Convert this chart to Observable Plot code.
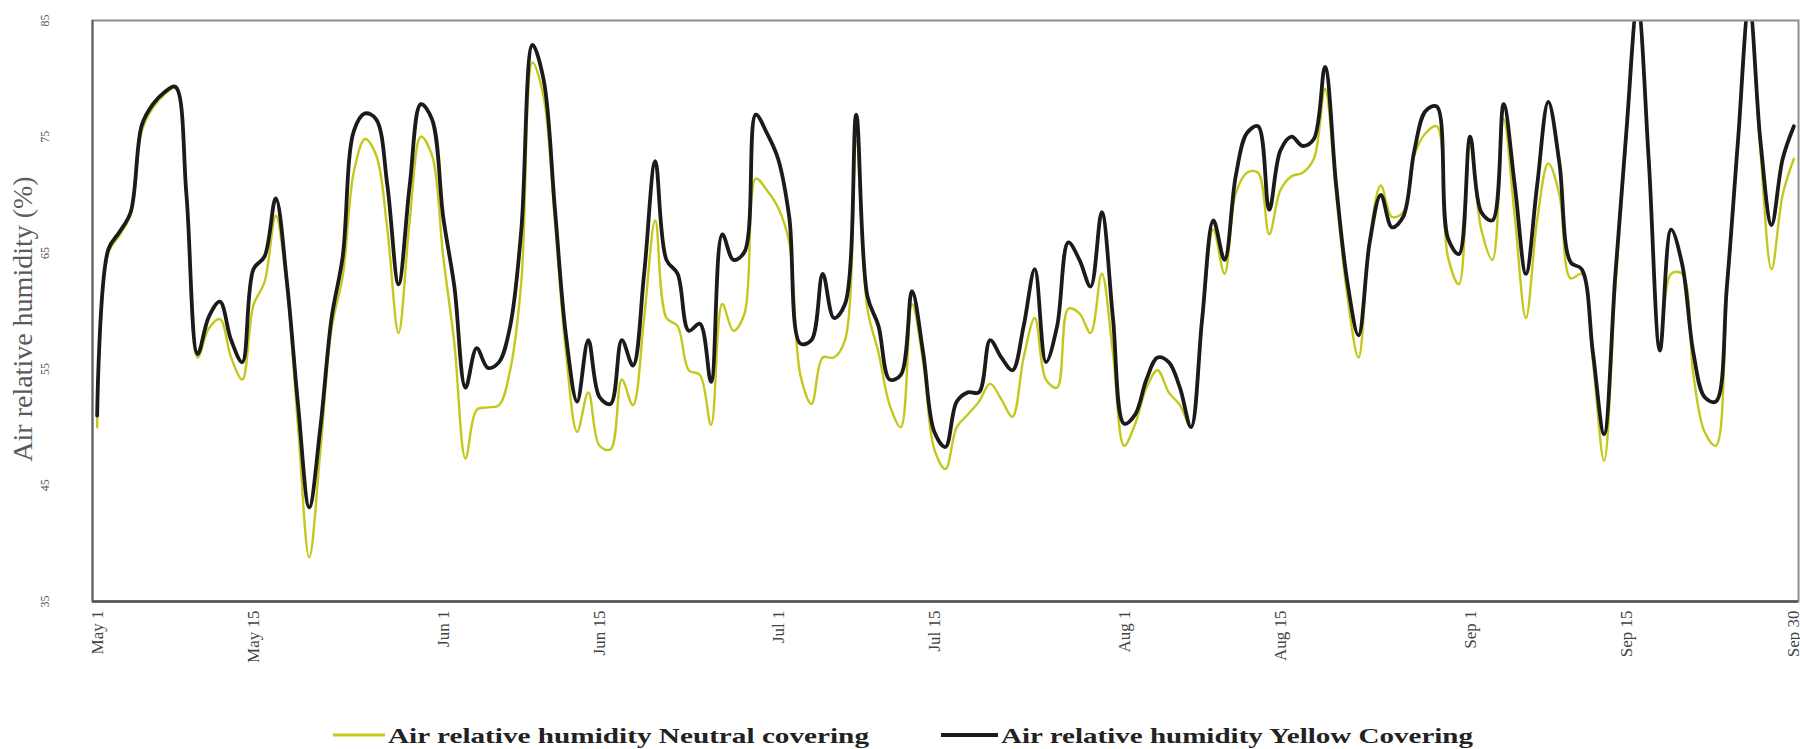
<!DOCTYPE html>
<html><head><meta charset="utf-8">
<script src="https://cdn.jsdelivr.net/npm/d3@7"></script>
<script src="https://cdn.jsdelivr.net/npm/@observablehq/plot@0.6"></script>
<style>
body{margin:0;background:#fff;}
#chart svg,#legend svg{display:block}
</style></head><body><div id="chart"></div><div id="legend"></div>
<script>
// ---- data (daily values, May 1 .. Sep 30) ----
const startDate = "2021-05-01";
const neutralCovering = [
 50,65,66.5,68.3,75.5,77.5,78.6,79.2,70,56,
 58.5,59.3,56,54.1,60.5,62.5,68.2,62,50,38.8,
 48,58.5,63,72,74.8,73.4,67,58.1,67.8,75,
 73.4,64.7,57.2,47.3,51.5,51.7,51.9,54.9,62.5,81.4,
 78.4,67.8,56.4,49.6,53,48.4,48.1,54.1,51.9,59.4,
 67.8,59.4,58.7,54.9,54.5,50.2,60.6,58.3,59.8,71.4,
 70.4,68.9,65.9,54.5,52,56,56,57.5,74.6,60.2,
 56.4,51.9,50,60.6,55.6,48.1,46.4,50,51.1,52.2,
 53.75,52.4,50.9,56,59.4,54.1,53.4,60.2,59.8,58.1,
 63.2,56.4,48.4,50.3,53.4,54.9,53,51.9,50,59.1,
 67,63.2,70.1,71.9,71.9,66.6,70.4,71.6,71.9,73.1,
 79.1,70,61.3,56,66.2,70.8,68.1,68.5,73.4,75.3,
 75.9,64.7,62.3,74.2,67,64.4,76.5,68.1,59.4,67.8,
 72.7,70,62.8,63.2,55.6,47.1,62,75,86,73,
 57.2,63.2,63.2,54.5,49.6,48.4,61.5,74.5,86,73.8,
 63.6,70,73.1
];
const yellowCovering = [
 51,65.3,66.8,68.5,76,77.8,78.8,79.3,70,56.3,
 59.5,60.8,57.5,55.6,63.6,64.7,69.7,62.5,51.9,43.1,
 50,59.4,64.7,75.5,77,76.5,70.8,62.3,70.8,77.8,
 76.5,68.1,62.1,53.4,56.8,55.1,55.6,58.7,67,82.9,
 79.9,68.9,57.9,52.2,57.5,52.6,52,57.5,55.3,63.2,
 72.9,64.4,63.2,58.3,58.9,53.9,66.6,64.4,65.1,76.9,
 75.3,73.1,68.1,57.2,57.5,63.2,59.4,60.6,76.9,61.3,
 58.7,54.1,54.5,61.7,56.4,49.6,48.3,52.2,53,53,
 57.5,56,54.9,58.7,63.6,55.6,58.7,65.9,64.4,62.1,
 68.5,59.4,50.3,51.1,54.1,56,55.6,53.4,50,59.4,
 67.8,64.4,71.6,75.3,75.9,68.7,73.8,75,74.2,74.8,
 81,70.8,62.5,57.9,65.9,70,67.2,68.1,73.8,77.2,
 77.6,66.3,64.9,75,68.5,67.8,77.8,70.8,63.2,70.8,
 78,72.7,64.2,63.6,56.4,49.4,63,75.5,86.5,73,
 56.6,67,64,56.4,52.6,52.2,62.1,74.7,86.5,74.7,
 67.4,73.1,75.9
];
const tickDates = ["2021-05-01","2021-05-15","2021-06-01","2021-06-15","2021-07-01","2021-07-15","2021-08-01","2021-08-15","2021-09-01","2021-09-15","2021-09-30"];
const tickLabels = ["May 1","May 15","Jun 1","Jun 15","Jul 1","Jul 15","Aug 1","Aug 15","Sep 1","Sep 15","Sep 30"];
const yTicks = [35,45,55,65,75,85];
const yTitle = "Air relative humidity (%)";
const seriesNames = ["Air relative humidity Neutral covering","Air relative humidity Yellow Covering"];
const seriesColors = ["#c4c81c","#1b1b1b"];

// ---- build ----
const day0 = new Date(startDate);
const dates = neutralCovering.map((_, i) => d3.utcDay.offset(day0, i));
const neutralRows = neutralCovering.map((v, i) => ({date: dates[i], value: v}));
const yellowRows = yellowCovering.map((v, i) => ({date: dates[i], value: v}));
const ticks = tickDates.map(s => new Date(s));
const labelOf = new Map(ticks.map((t, i) => [+t, tickLabels[i]]));
const x0 = d3.utcHour.offset(day0, -10);
const x1 = d3.utcHour.offset(dates[dates.length - 1], 10);
const serif = "'Liberation Serif','Times New Roman',serif";

const plot = Plot.plot({
  width: 1800, height: 712,
  marginTop: 20, marginBottom: 111, marginLeft: 92, marginRight: 2,
  style: {fontFamily: serif, background: "#fff"},
  x: {type: "utc", domain: [x0, x1], label: null},
  y: {domain: [35, 85], label: null},
  marks: [
    Plot.lineY(neutralRows, {x: "date", y: "value", stroke: seriesColors[0], strokeWidth: 2.4, curve: "catmull-rom", clip: true}),
    Plot.lineY(yellowRows, {x: "date", y: "value", stroke: seriesColors[1], strokeWidth: 3.8, curve: "catmull-rom", clip: true}),
    Plot.frame({stroke: "#8e8e8e", strokeWidth: 2}),
    Plot.ruleY([35], {stroke: "#505050", strokeWidth: 2.5}),
    Plot.ruleX([x0], {stroke: "#606060", strokeWidth: 2}),
    Plot.axisX(ticks, {tickSize: 0, tickPadding: 9, tickRotate: -90, tickFormat: d => labelOf.get(+d), fontSize: 17, fill: "#444", label: null}),
    Plot.axisY(yTicks, {tickSize: 0, tickPadding: 44, tickRotate: -90, fontSize: 12, fill: "#555", label: null}),
    Plot.text([yTitle], {frameAnchor: "left", textAnchor: "middle", dx: -69, dy: 8, rotate: -90, fontSize: 28, fill: "#5a5a5a"})
  ]
});
document.getElementById("chart").appendChild(plot);

// ---- legend below the chart ----
const leg = d3.select("#legend").append("svg").attr("width", 1800).attr("height", 37);
const items = [
  {name: seriesNames[0], color: seriesColors[0], x: 333, w: 52, tx: 388, tl: 481, sw: 3},
  {name: seriesNames[1], color: seriesColors[1], x: 941, w: 57, tx: 1001, tl: 472, sw: 4}
];
items.forEach(it => {
  leg.append("line").attr("x1", it.x).attr("x2", it.x + it.w).attr("y1", 23).attr("y2", 23)
    .attr("stroke", it.color).attr("stroke-width", it.sw);
  leg.append("text").attr("x", it.tx).attr("y", 23).attr("dy", "0.35em")
    .attr("font-family", serif).attr("font-weight", "bold").attr("font-size", 22).attr("fill", "#222")
    .attr("textLength", it.tl).attr("lengthAdjust", "spacingAndGlyphs").text(it.name);
});
</script></body></html>
